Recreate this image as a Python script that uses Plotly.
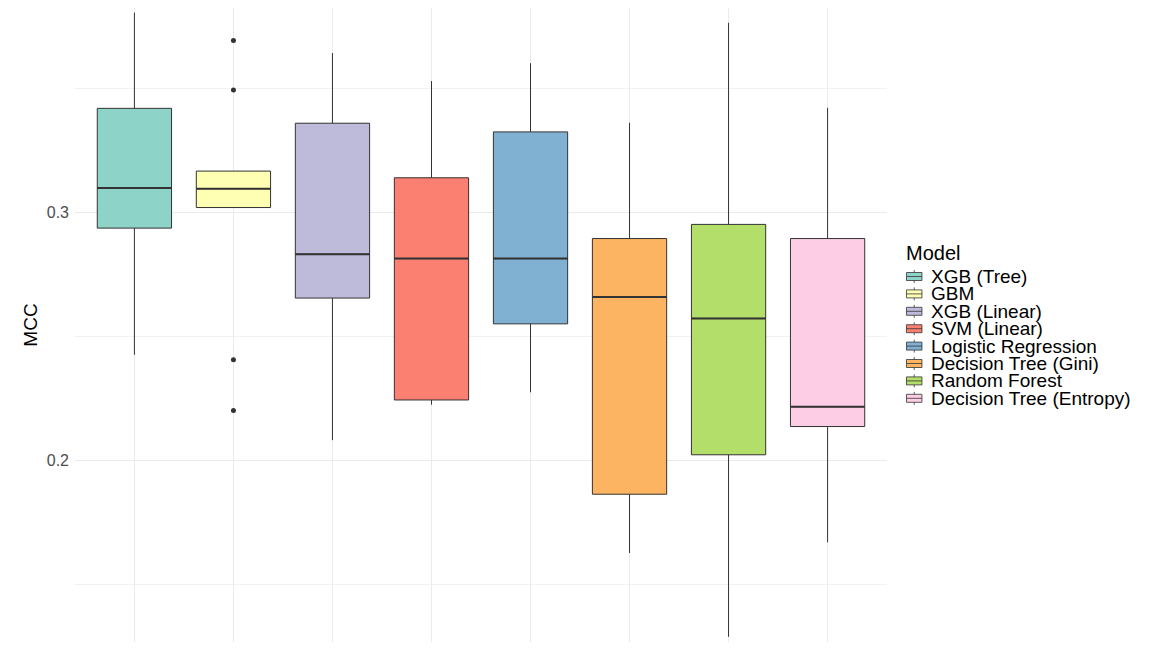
import plotly.graph_objects as go

models = ["XGB (Tree)", "GBM", "XGB (Linear)", "SVM (Linear)", "Logistic Regression",
          "Decision Tree (Gini)", "Random Forest", "Decision Tree (Entropy)"]
lower_whisker = [0.2424, 0.3018, 0.2080, 0.2223, 0.2273, 0.1625, 0.1287, 0.1668]
q1 = [0.2935, 0.3018, 0.2653, 0.2242, 0.2549, 0.1862, 0.2021, 0.2135]
median = [0.3097, 0.3094, 0.2830, 0.2812, 0.2812, 0.2657, 0.2571, 0.2215]
q3 = [0.3418, 0.3165, 0.3358, 0.3138, 0.3323, 0.2893, 0.2950, 0.2893]
upper_whisker = [0.3804, 0.3165, 0.3641, 0.3528, 0.3600, 0.3360, 0.3763, 0.3420]
gbm_outliers = [0.3692, 0.3492, 0.2404, 0.2200]
colors = ["#8DD3C7", "#FFFFB3", "#BEBADA", "#FB8072", "#80B1D3", "#FDB462", "#B3DE69", "#FCCDE5"]
y_ticks = [0.2, 0.3]
y_minor = [0.15, 0.25, 0.35]

# the page places the figure 8px in from the top-left corner
OFF = 8
W, H = 1148, 634
L, R, T, B = 74.5 - OFF, 887.5 - OFF, 0, H
Y03 = 212 - OFF          # pixel row of 0.3
PX_PER_UNIT = 2480.0
BOX_W = 0.75
EDGE = "#333333"
FONT = "Liberation Sans, Arial, Helvetica"

fig = go.Figure()
for i, m in enumerate(models):
    fig.add_trace(go.Box(
        x=[i], q1=[q1[i]], median=[median[i]], q3=[q3[i]],
        lowerfence=[lower_whisker[i]], upperfence=[upper_whisker[i]],
        name=m, fillcolor=colors[i], line=dict(color=EDGE, width=1),
        whiskerwidth=0, width=BOX_W, showlegend=False, boxpoints=False,
    ))
    fig.add_trace(go.Scatter(
        x=[i - BOX_W / 2, i + BOX_W / 2], y=[median[i], median[i]],
        mode="lines", line=dict(color=EDGE, width=2), showlegend=False, hoverinfo="skip",
    ))

gi = models.index("GBM")
fig.add_trace(go.Scatter(
    x=[gi] * len(gbm_outliers), y=gbm_outliers, mode="markers",
    marker=dict(color=EDGE, size=5), showlegend=False,
))

def px_x(p):
    return (p - OFF - L) / (R - L)

def px_y(p):
    return (B - (p - OFF)) / (B - T)

# ggplot-style legend
shapes = []
annotations = [dict(text="Model", x=px_x(905), y=px_y(253), xref="paper", yref="paper",
                    xanchor="left", yanchor="middle", showarrow=False,
                    font=dict(size=20, color="black", family=FONT))]
for k, m in enumerate(models):
    cy = 276.5 + k * 17.4
    shapes.append(dict(type="rect", xref="paper", yref="paper",
                       x0=px_x(907), x1=px_x(922.5), y0=px_y(cy - 4), y1=px_y(cy + 4),
                       fillcolor=colors[k], line=dict(color=EDGE, width=0.8)))
    shapes.append(dict(type="line", xref="paper", yref="paper",
                       x0=px_x(907), x1=px_x(922.5), y0=px_y(cy), y1=px_y(cy),
                       line=dict(color=EDGE, width=0.8)))
    for a, b in [(cy - 6.5, cy - 4), (cy + 4, cy + 6.5)]:
        shapes.append(dict(type="line", xref="paper", yref="paper",
                           x0=px_x(914.75), x1=px_x(914.75), y0=px_y(a), y1=px_y(b),
                           line=dict(color=EDGE, width=0.8)))
    annotations.append(dict(text=m, x=px_x(930), y=px_y(cy), xref="paper", yref="paper",
                            xanchor="left", yanchor="middle", showarrow=False,
                            font=dict(size=19, color="black", family=FONT)))

fig.update_layout(
    width=W, height=H,
    margin=dict(l=L, r=W - R, t=T, b=H - B, autoexpand=False),
    paper_bgcolor="white", plot_bgcolor="white",
    boxmode="overlay", showlegend=False,
    shapes=shapes, annotations=annotations,
    font=dict(family=FONT, color="#4D4D4D"),
    xaxis=dict(range=[-0.6, len(models) - 0.4], tickvals=list(range(len(models))),
               showticklabels=False, showgrid=True, gridcolor="#EBEBEB", gridwidth=1.1,
               zeroline=False, showline=False, ticks="", automargin=False),
    yaxis=dict(range=[0.3 - (B - Y03) / PX_PER_UNIT, 0.3 + (Y03 - T) / PX_PER_UNIT],
               tickvals=y_ticks, ticktext=["0.2", "0.3"], ticks="",
               tickfont=dict(size=16, color="#4D4D4D"), ticklabelstandoff=5,
               showgrid=True, gridcolor="#EBEBEB", gridwidth=1.1,
               minor=dict(tickvals=y_minor, showgrid=True, gridcolor="#F2F2F2", gridwidth=0.8),
               zeroline=False, showline=False, automargin=False,
               title=dict(text="MCC", standoff=4, font=dict(size=19, color="black"))),
)

fig.write_html("out.html")
